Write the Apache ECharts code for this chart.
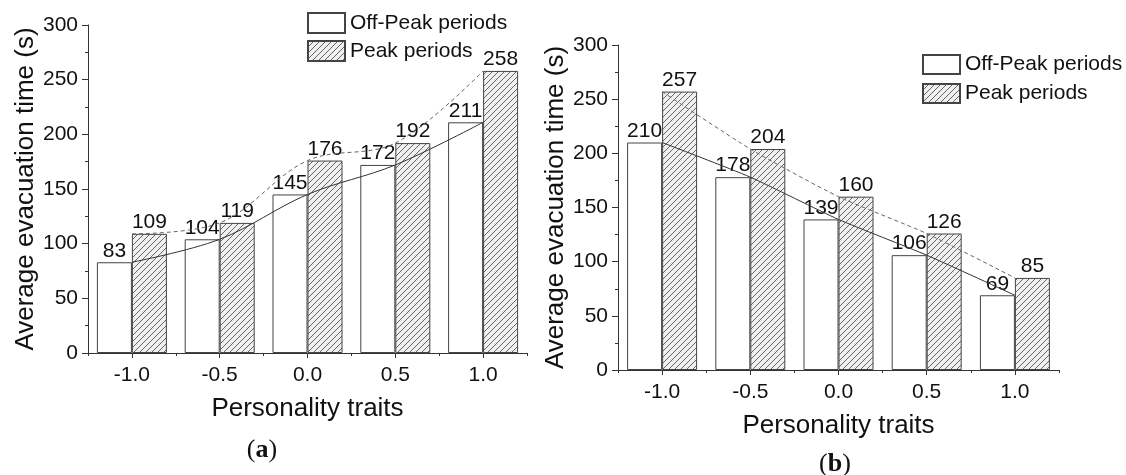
<!DOCTYPE html>
<html>
<head>
<meta charset="utf-8">
<script src="https://cdn.jsdelivr.net/npm/echarts@6/dist/echarts.min.js"></script>
<style>
  html, body { margin: 0; padding: 0; background: #ffffff; }
  #chart { width: 1126px; height: 475px; }
</style>
</head>
<body>
<div id="chart"></div>
<script>
// Personality trait levels (x categories)
const traits = ['-1.0', '-0.5', '0.0', '0.5', '1.0'];

// Panel (a): average evacuation time (s)
const offPeakA = [83, 104, 145, 172, 211];
const peakA = [109, 119, 176, 192, 258];

// Panel (b): average evacuation time (s)
const offPeakB = [210, 178, 139, 106, 69];
const peakB = [257, 204, 160, 126, 85];

// Shared value-axis range
const yMin = 0, yMax = 300, yStep = 50;

const FONT = '"Liberation Sans", Arial, sans-serif';
const SERIF = '"Liberation Serif", "DejaVu Serif", serif';
const AXIS_COLOR = '#333333';

// Diagonal hatch fill for the peak-period bars
function hatchCanvas() {
  const s = 6;
  const c = document.createElement('canvas');
  c.width = s; c.height = s;
  const g = c.getContext('2d');
  g.fillStyle = '#f0f0f0';
  g.fillRect(0, 0, s, s);
  g.strokeStyle = '#666666';
  g.lineWidth = 1;
  g.beginPath();
  g.moveTo(-1, s + 1); g.lineTo(s + 1, -1);
  g.moveTo(-1, 1); g.lineTo(1, -1);
  g.moveTo(s - 1, s + 1); g.lineTo(s + 1, s - 1);
  g.stroke();
  return c;
}
const hatch = { image: hatchCanvas(), repeat: 'repeat' };

const chart = echarts.init(document.getElementById('chart'), null, { renderer: 'canvas' });

function valueAxis(gridIndex, nameGap) {
  return {
    type: 'value', gridIndex, min: yMin, max: yMax, interval: yStep,
    name: 'Average evacuation time (s)', nameLocation: 'middle', nameGap,
    nameTextStyle: { fontSize: 26, fontFamily: FONT, color: '#111' },
    axisLine: { show: true, lineStyle: { color: AXIS_COLOR, width: 1 } },
    axisTick: { show: true, inside: false, length: 6, lineStyle: { color: AXIS_COLOR } },
    minorTick: { show: true, splitNumber: 2, length: 3, lineStyle: { color: AXIS_COLOR } },
    axisLabel: { fontSize: 21, fontFamily: FONT, color: '#111', margin: 10 },
    splitLine: { show: false }
  };
}

function categoryAxis(gridIndex) {
  return {
    type: 'category', gridIndex, data: traits, boundaryGap: true,
    name: 'Personality traits', nameLocation: 'middle', nameGap: 43,
    nameTextStyle: { fontSize: 26, fontFamily: FONT, color: '#111', verticalAlign: 'top' },
    axisLine: { show: true, lineStyle: { color: AXIS_COLOR, width: 1 } },
    axisTick: { show: true, alignWithLabel: true, length: 5, lineStyle: { color: AXIS_COLOR } },
    axisLabel: { fontSize: 21, fontFamily: FONT, color: '#111', margin: 12 },
    splitLine: { show: false }
  };
}

// Short ticks at the category boundaries
function boundaryTickAxis(gridIndex) {
  return {
    type: 'category', gridIndex, data: traits, boundaryGap: true, position: 'bottom',
    axisLine: { show: false },
    axisTick: { show: true, alignWithLabel: false, length: 3, lineStyle: { color: AXIS_COLOR } },
    axisLabel: { show: false },
    splitLine: { show: false }
  };
}

const barLabel = {
  show: true, position: 'top', distance: 1,
  fontSize: 21, fontFamily: FONT, color: '#111'
};

function barSeries(name, data, xi, yi, color) {
  return {
    name, type: 'bar', data, xAxisIndex: xi, yAxisIndex: yi,
    barWidth: 35, barGap: '0%',
    itemStyle: { color, borderColor: '#444444', borderWidth: 1 },
    label: barLabel,
    emphasis: { disabled: true },
    z: 2
  };
}

function trendSeries(name, data, xi, yi, dashed, smooth) {
  return {
    name, type: 'line', data, xAxisIndex: xi, yAxisIndex: yi,
    smooth, symbol: 'none', silent: true,
    lineStyle: dashed
      ? { color: '#666666', width: 1, type: [4, 3] }
      : { color: '#333333', width: 1 },
    z: 5
  };
}

function legendAt(left, top, itemHeight, itemGap) {
  return {
    data: ['Off-Peak periods', 'Peak periods'],
    orient: 'vertical', left, top, padding: 0,
    icon: 'rect', itemWidth: 37, itemHeight, itemGap,
    selectedMode: false,
    textStyle: { fontSize: 21, fontFamily: FONT, color: '#111' }
  };
}

const option = {
  animation: false,
  backgroundColor: '#ffffff',
  grid: [
    { left: 88, top: 25, width: 439, height: 328 },
    { left: 618, top: 45, width: 441, height: 325 }
  ],
  xAxis: [categoryAxis(0), boundaryTickAxis(0), categoryAxis(1), boundaryTickAxis(1)],
  yAxis: [valueAxis(0, 46), valueAxis(1, 49)],
  legend: [legendAt(307, 12, 20, 6), legendAt(922, 54, 19, 8)],
  series: [
    barSeries('Off-Peak periods', offPeakA, 0, 0, '#ffffff'),
    barSeries('Peak periods', peakA, 0, 0, hatch),
    trendSeries('Off-Peak trend (a)', offPeakA, 0, 0, false, 0.35),
    trendSeries('Peak trend (a)', peakA, 0, 0, true, 0.35),
    barSeries('Off-Peak periods', offPeakB, 2, 1, '#ffffff'),
    barSeries('Peak periods', peakB, 2, 1, hatch),
    trendSeries('Off-Peak trend (b)', offPeakB, 2, 1, false, 0.2),
    trendSeries('Peak trend (b)', peakB, 2, 1, true, 0.2)
  ],
  graphic: [
    {
      type: 'text', x: 262, y: 450,
      style: {
        text: '{p|(}{b|a}{p|)}', align: 'center', verticalAlign: 'middle',
        rich: {
          p: { fontSize: 26, fontFamily: SERIF, fill: '#111' },
          b: { fontSize: 26, fontFamily: SERIF, fontWeight: 'bold', fill: '#111' }
        }
      }
    },
    {
      type: 'text', x: 835, y: 464,
      style: {
        text: '{p|(}{b|b}{p|)}', align: 'center', verticalAlign: 'middle',
        rich: {
          p: { fontSize: 26, fontFamily: SERIF, fill: '#111' },
          b: { fontSize: 26, fontFamily: SERIF, fontWeight: 'bold', fill: '#111' }
        }
      }
    }
  ]
};

chart.setOption(option);
</script>
</body>
</html>
